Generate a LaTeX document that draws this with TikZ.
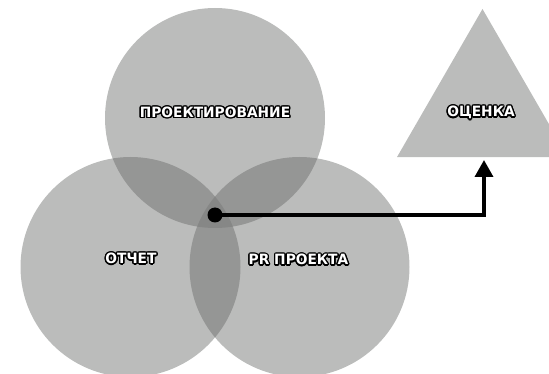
\documentclass[tikz,border=0pt]{standalone}
\usepackage{fontspec}
\usetikzlibrary{arrows.meta,shapes.geometric}
\newfontfamily\lblfont[FakeStretch=0.97]{DejaVu Sans}
\usepackage{contour}
\contourlength{1.4pt}
\definecolor{shadeone}{RGB}{187,188,187}
\definecolor{shadetwo}{RGB}{149,150,149}
\definecolor{shadethree}{RGB}{134,135,134}
\begin{document}
\begin{tikzpicture}[x=1pt,y=-1pt,
  disc/.style={circle,draw=none,fill=shadeone,minimum size=220pt,inner sep=0pt,outer sep=0pt},
  tri/.style={regular polygon,regular polygon sides=3,draw=none,fill=shadeone,minimum size=197.4pt,inner sep=0pt,outer sep=0pt},
  lbl/.style={text=white,font=\lblfont\bfseries\fontsize{14.2}{16}\selectfont,inner sep=0pt,anchor=base},
  conn/.style={line width=3.5pt,-{Triangle[width=18pt,length=17pt]}}]
\useasboundingbox (0,0) rectangle (549,374);
\begin{scope}
\clip (0,0) rectangle (549,374);
\node[disc] (top) at (215,118) {};
\node[disc] (left) at (130.5,267) {};
\node[disc] (right) at (299.5,267) {};
\node[tri] (eval) at (482.5,107.7) {};
\begin{scope}
\clip (top.center) circle (110pt);
\fill[shadetwo] (left.center) circle (110pt);
\fill[shadetwo] (right.center) circle (110pt);
\end{scope}
\begin{scope}
\clip (left.center) circle (110pt);
\fill[shadetwo] (right.center) circle (110pt);
\clip (right.center) circle (110pt);
\fill[shadethree] (top.center) circle (110pt);
\end{scope}
\end{scope}
\node[circle,fill=black,minimum size=15pt,inner sep=0pt] (dot) at (215,215) {};
\coordinate (tip) at (484,160);
\draw[conn] (dot.center) -| (tip);
\node[lbl] (ltop) at (215,117.6) {\contour{black}{ПРОЕКТИРОВАНИЕ}};
\node[lbl] (leval) at (481,116.8) {\contour{black}{ОЦЕНКА}};
\node[lbl] (lleft) at (131,263.6) {\contour{black}{ОТЧЕТ}};
\node[lbl] (lright) at (298.5,265) {\contour{black}{PR ПРОЕКТА}};
\end{tikzpicture}
\end{document}
